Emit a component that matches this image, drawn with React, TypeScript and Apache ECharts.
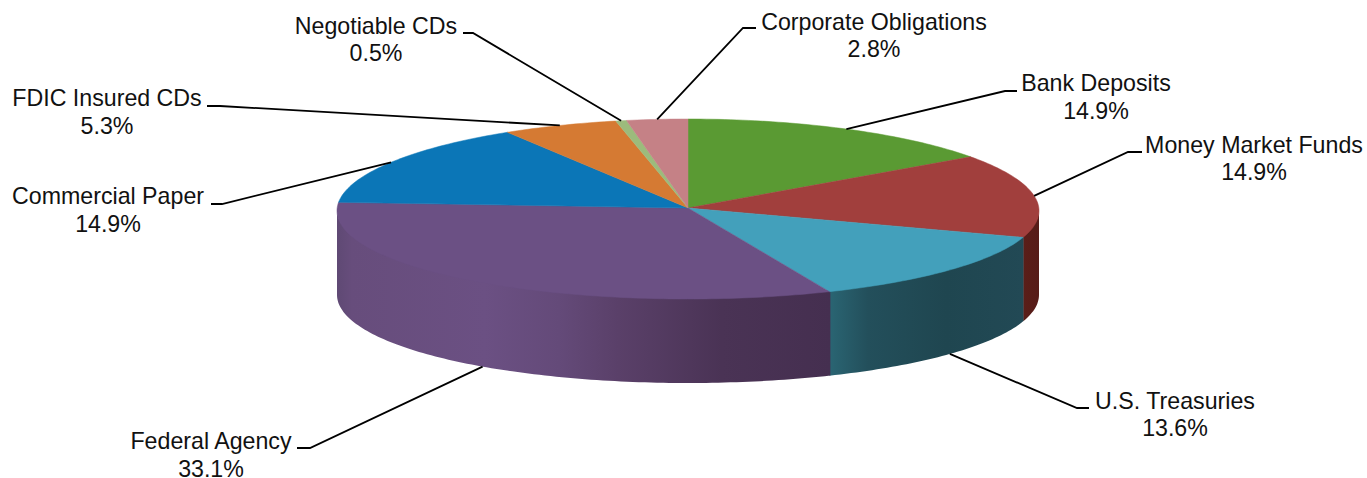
import React, { useEffect, useRef } from "react";
import * as echarts from "echarts";

// Portfolio allocation, in percent, clockwise from twelve o'clock.
const categories = [
  "Bank Deposits",
  "Money Market Funds",
  "U.S. Treasuries",
  "Federal Agency",
  "Commercial Paper",
  "FDIC Insured CDs",
  "Negotiable CDs",
  "Corporate Obligations",
];
const shares = [14.9, 14.9, 13.6, 33.1, 14.9, 5.3, 0.5, 2.8];

const topColors = ["#5a9a33", "#a13f3d", "#43a0bb", "#6b5084", "#0b76b7", "#d57a33", "#9cbb7c", "#c58186"];
const wallStops: [number, string][][] = [
  [[0, "#3f6a22"], [1, "#3f6a22"]],
  [[0, "#5a1e19"], [1, "#561c18"]],
  [[0, "#2a6573"], [0.2, "#234f5b"], [0.6, "#1f4650"], [1, "#224955"]],
  [[0, "#5f4974"], [0.03, "#674d7c"], [0.3, "#6b5083"], [0.45, "#644a79"], [0.57, "#5a4069"], [0.78, "#4a3355"], [1, "#452f50"]],
  [[0, "#0a5c8e"], [1, "#0a5c8e"]],
  [[0, "#a65e25"], [1, "#a65e25"]],
  [[0, "#7a9460"], [1, "#7a9460"]],
  [[0, "#9a6468"], [1, "#9a6468"]],
];

// Disc geometry of the tilted pie; sag lowers the sides a little for perspective.
const cx = 688;
const cy = 209;
const rx = 351;
const ry = 90;
const sag = 1.8;
const depth = 84;

// Label centres and leader elbows: [centre x, centre y, text-side x, knee x, elbow y].
const labelLayout = [
  [1096, 97, 1017, 1005, 91],
  [1254, 158.5, 1142, 1128, 152],
  [1175, 414.5, 1089, 1077, 408],
  [211, 455, 297, 310, 448],
  [108, 210, 211, 222, 204],
  [107, 112, 207, 220, 106],
  [376, 39.5, 463, 473, 33],
  [874, 35.5, 756, 743, 28],
];

const FONT_SIZE = 23.2;
const LINE_HEIGHT = 27.5;

const rimPoint = (t: number, drop = 0): number[] => [
  cx + rx * Math.sin(t),
  cy - ry * Math.cos(t) + sag * Math.sin(t) ** 2 + drop,
];

const arcPoints = (from: number, to: number, drop = 0): number[][] => {
  const steps = Math.max(2, Math.ceil((to - from) / (Math.PI / 180)));
  const pts: number[][] = [];
  for (let i = 0; i <= steps; i++) pts.push(rimPoint(from + ((to - from) * i) / steps, drop));
  return pts;
};

const total = shares.reduce((a, b) => a + b, 0);
const toAngle = (share: number) => (share / total) * Math.PI * 2;

function renderSlice(params: any, api: any) {
  const i = params.dataIndex as number;
  const value = api.value(0) as number;
  const before = shares.slice(0, i).reduce((a, b) => a + b, 0);
  const start = toAngle(before);
  const end = toAngle(before + value);
  const mid = (start + end) / 2;
  const children: any[] = [];

  // Only the part of the rim facing the viewer gets a wall. Each wall tucks
  // slightly under the disc and under its neighbour so no seam shows through.
  const wallFrom = Math.max(start, Math.PI / 2);
  const wallTo = Math.min(end, (Math.PI * 3) / 2);
  if (wallTo > wallFrom) {
    const upper = arcPoints(wallFrom - 0.003, wallTo, -1.5);
    const lower = arcPoints(wallFrom - 0.003, wallTo, depth).reverse();
    const stops = wallStops[i].map(([offset, color]) => ({ offset, color }));
    // Gradient runs left to right across the wall's bounding box.
    const fill = new echarts.graphic.LinearGradient(0, 0, 1, 0, stops);
    children.push({
      type: "polygon",
      shape: { points: upper.concat(lower) },
      style: { fill },
      z2: 1,
    });
  }

  children.push({
    type: "polygon",
    shape: { points: [[cx, cy - 1], ...arcPoints(start, end)] },
    style: { fill: topColors[i], stroke: topColors[i], lineWidth: 0.5 },
    z2: 2,
  });

  // Leader runs from the slice's middle, on the lower rim when that part faces front.
  const facesFront = mid > Math.PI / 2 && mid < (Math.PI * 3) / 2;
  const [lx, ly, textX, kneeX, elbowY] = labelLayout[i];
  children.push({
    type: "polyline",
    shape: { points: [rimPoint(mid, facesFront ? depth : 0), [kneeX, elbowY], [textX, elbowY]] },
    style: { fill: "none", stroke: "#000000", lineWidth: 1.8 },
    z2: 3,
  });
  children.push({
    type: "text",
    x: lx,
    y: ly,
    style: {
      text: `${categories[i]}\n${value.toFixed(1)}%`,
      fill: "#111111",
      fontFamily: "'Liberation Sans', Arial, sans-serif",
      fontSize: FONT_SIZE,
      lineHeight: LINE_HEIGHT,
      textAlign: "center",
      textVerticalAlign: "middle",
    },
    z2: 4,
  });
  return { type: "group", children };
}

export default function App() {
  const ref = useRef<HTMLDivElement>(null);
  useEffect(() => {
    document.body.style.margin = "0";
    document.body.style.overflow = "hidden";
    const chart = echarts.init(ref.current!, null, { renderer: "svg" });
    chart.setOption({
      animation: false,
      backgroundColor: "#ffffff",
      series: [
        {
          type: "custom",
          coordinateSystem: "none",
          renderItem: renderSlice,
          data: shares.map((v, i) => ({ name: categories[i], value: [v] })),
          clip: false,
        },
      ],
    });
    return () => chart.dispose();
  }, []);
  return <div ref={ref} style={{ width: 1367, height: 478 }} />;
}
